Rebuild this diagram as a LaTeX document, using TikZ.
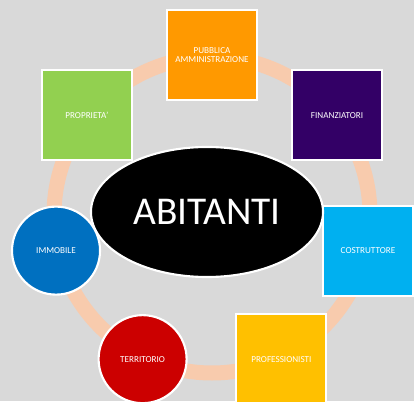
\documentclass[tikz,border=0pt]{standalone}
\usepackage{fontspec}
\setmainfont{Carlito}
\usetikzlibrary{shapes.geometric}
\definecolor{bgray}{HTML}{D9D9D9}
\definecolor{peach}{HTML}{F8CBAD}
\definecolor{paorange}{HTML}{FF9900}
\definecolor{finpurple}{HTML}{330066}
\definecolor{propgreen}{HTML}{92D050}
\definecolor{immblue}{HTML}{0070C0}
\definecolor{costblue}{HTML}{00B0F0}
\definecolor{terred}{HTML}{CC0000}
\definecolor{profgold}{HTML}{FFC000}
\tikzset{
  ring/.style={draw=peach,line width=0.375cm},
  sqbox/.style={rectangle,draw=white,line width=1.5pt,minimum size=2.25cm,inner sep=0pt,
    text=white,font=\fontsize{6.5}{7}\selectfont,align=center},
  rdbox/.style={circle,draw=white,line width=1.5pt,minimum size=2.2cm,inner sep=0pt,
    text=white,font=\fontsize{6.5}{7}\selectfont},
  hubell/.style={ellipse,draw=white,line width=1.5pt,fill=black,minimum width=5.8cm,
    minimum height=3.25cm,inner sep=0pt,text=white,font=\fontsize{28}{30}\selectfont}
}
\begin{document}
\begin{tikzpicture}[x=0.025cm,y=0.025cm]
\useasboundingbox [fill=bgray] (-212,-186) rectangle (202,215);
\coordinate (hub) at (0,0);
\draw [ring] (hub) circle (158);
\node [sqbox,fill=paorange] (pa) at (90:160) {PUBBLICA\\AMMINISTRAZIONE};
\node [sqbox,fill=finpurple] (fin) at (38.57:160) {FINANZIATORI};
\node [sqbox,fill=costblue] (cost) at (-12.86:160) {COSTRUTTORE};
\node [sqbox,fill=profgold] (prof) at (-64.29:160) {PROFESSIONISTI};
\node [rdbox,fill=terred] (terr) at (-115.71:160) {TERRITORIO};
\node [rdbox,fill=immblue] (imm) at (-167.14:160) {IMMOBILE};
\node [sqbox,fill=propgreen] (prop) at (141.43:160) {PROPRIETA'};
\node [hubell] (abitanti) at (-5,3) {ABITANTI};
\end{tikzpicture}
\end{document}
